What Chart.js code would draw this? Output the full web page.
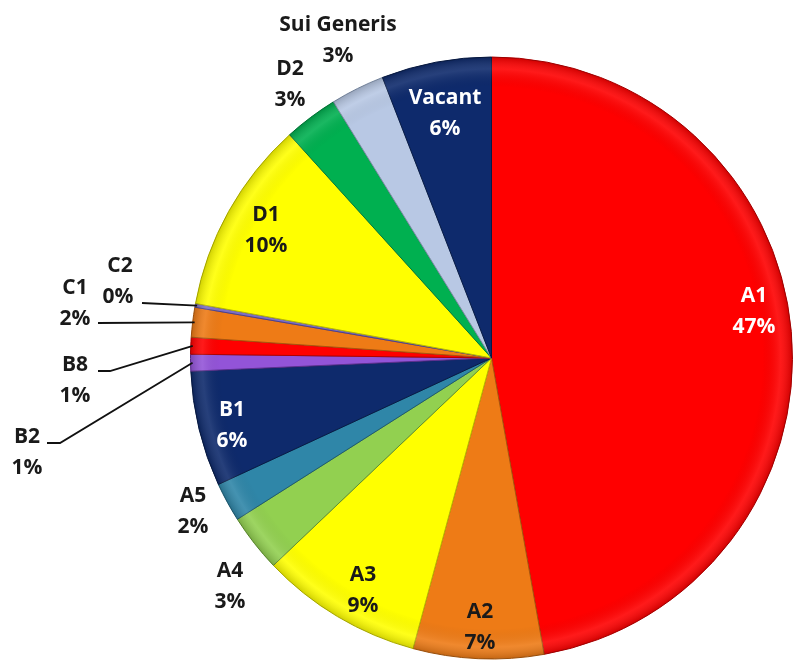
<!DOCTYPE html>
<html>
<head>
<meta charset="utf-8">
<script src="https://cdn.jsdelivr.net/npm/chart.js@4"></script>
<style>
  html, body { margin: 0; padding: 0; background: #fff; }
  #wrap { width: 793px; height: 668px; position: relative; }
</style>
</head>
<body>
<div id="wrap"><canvas id="piechart"></canvas></div>
<script>
// land use categories, clockwise from 12 o'clock
const categories = ['A1', 'A2', 'A3', 'A4', 'A5', 'B1', 'B2', 'B8', 'C1', 'C2', 'D1', 'D2', 'Sui Generis', 'Vacant'];
const shares = [47.2, 7.0, 8.7, 3.1, 2.1, 6.2, 0.9, 0.9, 1.6, 0.2, 10.4, 2.9, 2.9, 5.9];
const pctLabels = ['47%', '7%', '9%', '3%', '2%', '6%', '1%', '1%', '2%', '0%', '10%', '3%', '3%', '6%'];

const sliceColors = ['#ff0000', '#ee7b16', '#ffff00', '#92d050', '#2f86a8', '#0e2a6c', '#9354d8',
  '#ff0000', '#ee7b16', '#7d6fc4', '#ffff00', '#00b050', '#b8c8e4', '#0e2a6c'];
const edgeColors = ['#b00000', '#a8560c', '#b8b800', '#5f8f30', '#1c5a72', '#061a45', '#5c2f8f',
  '#b00000', '#a8560c', '#4b4090', '#b8b800', '#007a38', '#7f8fa8', '#061a45'];
const textColors = ['#fff', '#1a1a1a', '#1a1a1a', '#1a1a1a', '#1a1a1a', '#fff', '#1a1a1a',
  '#1a1a1a', '#1a1a1a', '#1a1a1a', '#1a1a1a', '#1a1a1a', '#1a1a1a', '#fff'];

// where each two-line label sits (centre of first line)
const labelPos = {
  'A1': [754, 296], 'A2': [480, 612], 'A3': [363, 575], 'A4': [230, 571], 'A5': [193, 496],
  'B1': [232, 410], 'B2': [27, 437], 'B8': [75, 365], 'C1': [75, 288], 'C2': [120, 266],
  'D1': [266, 215], 'D2': [290, 69], 'Sui Generis': [338, 25], 'Vacant': [445, 98]
};
const secondLineShift = {'C2': -2};
// leader lines: start point near the text, optional elbow
const leaders = {
  'C2': [[142, 303]],
  'C1': [[98, 323]],
  'B8': [[98, 371], [110, 371]],
  'B2': [[47, 443], [60, 443]]
};

const labelPlugin = {
  id: 'sliceLabels',
  afterDatasetsDraw(chart) {
    const ctx = chart.ctx;
    const arcs = chart.getDatasetMeta(0).data;
    ctx.save();
    // leader lines
    ctx.strokeStyle = '#111';
    ctx.lineWidth = 1.8;
    categories.forEach(function (cat, i) {
      if (!leaders[cat]) return;
      const arc = arcs[i];
      const mid = (arc.startAngle + arc.endAngle) / 2;
      const r = arc.outerRadius - 2;
      const ex = arc.x + Math.cos(mid) * r;
      const ey = arc.y + Math.sin(mid) * r;
      const pts = leaders[cat];
      ctx.beginPath();
      ctx.moveTo(pts[0][0], pts[0][1]);
      for (let k = 1; k < pts.length; k++) ctx.lineTo(pts[k][0], pts[k][1]);
      ctx.lineTo(ex, ey);
      ctx.stroke();
    });
    // texts
    ctx.font = 'bold 21px "Open Sans"';
    ctx.textAlign = 'center';
    ctx.textBaseline = 'middle';
    categories.forEach(function (cat, i) {
      const p = labelPos[cat];
      ctx.fillStyle = textColors[i];
      ctx.fillText(cat, p[0], p[1]);
      ctx.fillText(pctLabels[i], p[0] + (secondLineShift[cat] || 0), p[1] + 31);
    });
    ctx.restore();
  }
};

// soft rim shading to hint at the bevelled look
const shadePlugin = {
  id: 'rimShade',
  afterDatasetsDraw(chart) {
    const arc = chart.getDatasetMeta(0).data[0];
    const ctx = chart.ctx;
    const g = ctx.createRadialGradient(arc.x, arc.y, arc.outerRadius * 0.9, arc.x, arc.y, arc.outerRadius);
    g.addColorStop(0, 'rgba(0,0,0,0)');
    g.addColorStop(0.6, 'rgba(255,255,255,0.10)');
    g.addColorStop(1, 'rgba(0,0,0,0.18)');
    ctx.save();
    ctx.beginPath();
    ctx.arc(arc.x, arc.y, arc.outerRadius, 0, Math.PI * 2);
    ctx.fillStyle = g;
    ctx.fill();
    ctx.restore();
  }
};

new Chart("piechart", {
  type: "pie",
  data: {
    labels: categories,
    datasets: [{
      data: shares,
      backgroundColor: sliceColors,
      borderColor: edgeColors,
      borderWidth: 1
    }]
  },
  options: {
    responsive: true,
    maintainAspectRatio: false,
    animation: false,
    layout: {
      padding: { left: 190, right: 0, top: 55, bottom: 7 }
    },
    plugins: {
      legend: { display: false },
      tooltip: { enabled: false }
    }
  },
  plugins: [shadePlugin, labelPlugin]
});
</script>
</body>
</html>
